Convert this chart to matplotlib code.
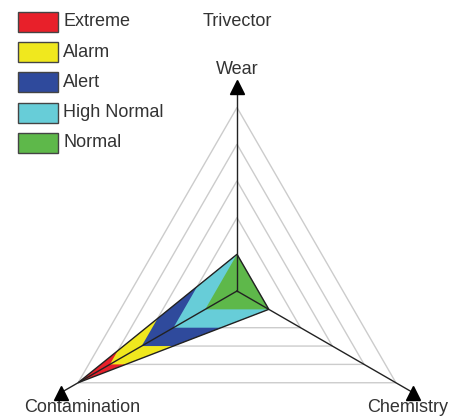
import numpy as np
import matplotlib
matplotlib.use("Agg")
import matplotlib.pyplot as plt
from matplotlib.patches import Polygon, Rectangle

plt.rcParams['font.family'] = ['Liberation Sans', 'DejaVu Sans']

# Dados
axis_names = ["Wear", "Contamination", "Chemistry"]
axis_angles = [90, 210, 330]  # graus
values = [1.0, 5.0, 1.0]  # Wear, Contamination, Chemistry

zone_names = ["Extreme", "Alarm", "Alert", "High Normal", "Normal"]
zone_colors = ["#E8202A", "#F0E81E", "#2F4A9C", "#67CDD8", "#5EB84A"]
zone_limits = [6, 4, 3, 2, 1]  # limite externo de cada zona
grid_levels = [1, 2, 3, 4, 5]
axis_len = 5.55

ang = np.deg2rad(axis_angles)


def to_xy(r):
    r = np.asarray(r, dtype=float)
    return np.column_stack([r * np.cos(ang), r * np.sin(ang)])


W, H = 465, 418
cx, cy, step = 237, 291, 36.7
fig = plt.figure(figsize=(W / 100, H / 100), dpi=100)
ax = fig.add_axes([0, 0, 1, 1])
ax.set_xlim(-cx / step, (W - cx) / step)
ax.set_ylim(-(H - cy) / step, cy / step)
ax.axis("off")

# Grade triangular
for lv in grid_levels:
    tri = Polygon(to_xy([lv] * 3), closed=True, fill=False,
                  edgecolor="#cccccc", linewidth=1.0, zorder=1)
    ax.add_patch(tri)

# Triângulo de dados (usado como recorte)
data_xy = to_xy(values)
clip = Polygon(data_xy, closed=True, facecolor="none", edgecolor="none")
ax.add_patch(clip)

for lim, col in zip(zone_limits, zone_colors):
    p = Polygon(to_xy([lim] * 3), closed=True, facecolor=col,
                edgecolor="none", zorder=2)
    ax.add_patch(p)
    p.set_clip_path(clip)

ax.add_patch(Polygon(data_xy, closed=True, fill=False, edgecolor="#222222",
                     linewidth=1.0, zorder=3))

# Eixos com setas
ends = to_xy([axis_len] * 3)
for (x, y) in ends:
    ax.plot([0, x], [0, y], color="#222222", linewidth=1.0, zorder=4)
    ax.plot(x, y, marker="^", markersize=10, color="black", zorder=5)

txt = dict(fontsize=13, color="#333333", ha="center", va="center")
ax.text(0, (cy - 69) / step, axis_names[0], **txt)
ax.text((82 - cx) / step, -(407 - cy) / step, axis_names[1], **txt)
ax.text((408 - cx) / step, -(407 - cy) / step, axis_names[2], **txt)
ax.text(0, (cy - 22) / step, "Trivector", **txt)

# Legenda
for i, (name, col) in enumerate(zip(zone_names, zone_colors)):
    top = 12 + 30.2 * i
    fig.patches.append(Rectangle((18 / W, 1 - (top + 20) / H), 40 / W, 20 / H,
                                 transform=fig.transFigure, facecolor=col,
                                 edgecolor="#444444", linewidth=1.0))
    fig.text(63 / W, 1 - (top + 10) / H, name, fontsize=13, color="#333333",
             ha="left", va="center")

plt.savefig("out.png", dpi=100)
